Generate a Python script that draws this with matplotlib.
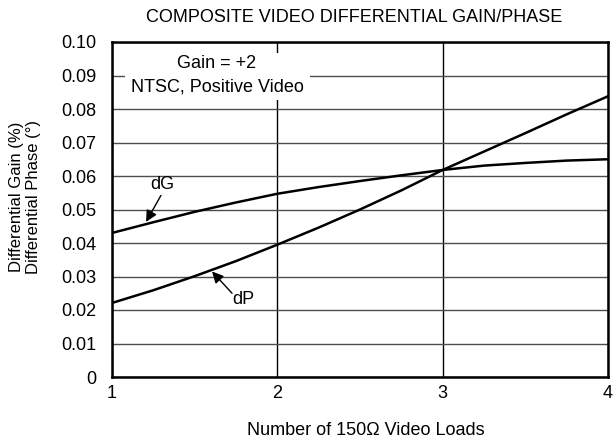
import numpy as np
import matplotlib
matplotlib.use('Agg')
import matplotlib.pyplot as plt
from matplotlib.patches import Rectangle

plt.rcParams['font.family'] = ['Liberation Sans', 'DejaVu Sans']

#Data
loads = [1.0, 1.25, 1.5, 1.75, 2.0, 2.25, 2.5, 2.75, 3.0, 3.25, 3.5, 3.75, 4.0]
dG = [0.0430, 0.0462, 0.0493, 0.0521, 0.0547, 0.0567, 0.0585, 0.0602, 0.0618, 0.0631, 0.0639, 0.0646, 0.0650]
dP = [0.0221, 0.0259, 0.0301, 0.0346, 0.0395, 0.0446, 0.0500, 0.0557, 0.0618, 0.0673, 0.0728, 0.0784, 0.0838]
xticks = [1, 2, 3, 4]
yticks = [0, 0.01, 0.02, 0.03, 0.04, 0.05, 0.06, 0.07, 0.08, 0.09, 0.10]
ylabels = ['0', '0.01', '0.02', '0.03', '0.04', '0.05', '0.06', '0.07', '0.08', '0.09', '0.10']

fig = plt.figure(figsize=(6.15, 4.45), dpi=100)
ax = fig.add_axes([112/615, 1-377/445, 496/615, 335/445])

ax.plot(loads, dG, color='black', lw=1.8, zorder=3)
ax.plot(loads, dP, color='black', lw=1.8, zorder=3)

ax.set_xlim(1, 4)
ax.set_ylim(0, 0.10)
ax.set_xticks(xticks)
ax.set_xticklabels([str(t) for t in xticks])
ax.set_yticks(yticks)
ax.set_yticklabels(ylabels)
ax.tick_params(axis='both', length=0, labelsize=13)
ax.tick_params(axis='y', pad=11)
ax.tick_params(axis='x', pad=6)

#Grid
ax.set_axisbelow(True)
ax.xaxis.grid(True, color='black', lw=1.0)
ax.yaxis.grid(True, color='0.3', lw=1.0)
for s in ax.spines.values():
 s.set_linewidth(1.8)

#White box behind the condition text
ax.add_patch(Rectangle((0.026, 0.827), 0.373, 0.14, transform=ax.transAxes,
                       facecolor='white', edgecolor='none', zorder=1.5))
ax.text(1.635, 0.0936, 'Gain = +2', ha='center', va='center', fontsize=13, zorder=4)
ax.text(1.635, 0.0866, 'NTSC, Positive Video', ha='center', va='center', fontsize=13, zorder=4)

#Curve labels
arrow = dict(arrowstyle='-|>', color='black', lw=1.0, mutation_scale=17, shrinkA=0, shrinkB=0)
ax.text(1.302, 0.0575, 'dG', ha='center', va='center', fontsize=13)
ax.annotate('', xy=(1.206, 0.0463), xytext=(1.296, 0.0542), arrowprops=arrow)
ax.text(1.792, 0.0230, 'dP', ha='center', va='center', fontsize=13)
ax.annotate('', xy=(1.605, 0.0315), xytext=(1.726, 0.0250), arrowprops=arrow)

fig.text(354/615, 1-22/445, 'COMPOSITE VIDEO DIFFERENTIAL GAIN/PHASE', ha='center',
         va='baseline', fontsize=13)
fig.text(366/615, 1-435/445, 'Number of 150\u03a9 Video Loads', ha='center', va='baseline',
         fontsize=13)
fig.text(25/615, 1-197/445, 'Differential Gain (%)\nDifferential Phase (\u00b0)', rotation=90,
         ha='center', va='center', multialignment='center', fontsize=12, linespacing=1.1)

fig.savefig('out.png', dpi=100)
